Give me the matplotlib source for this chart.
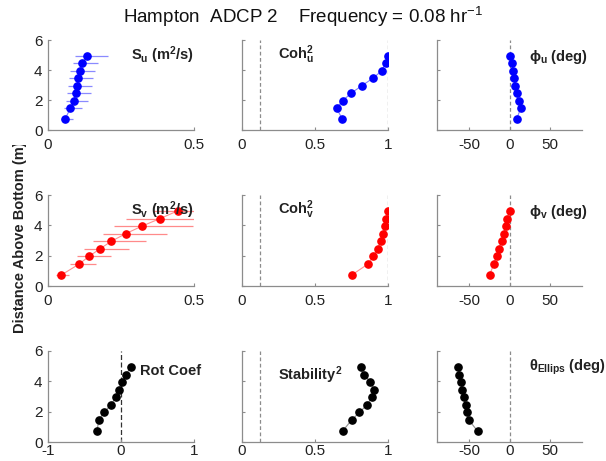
import matplotlib
matplotlib.use("Agg")
import matplotlib.pyplot as plt
from matplotlib.transforms import Bbox

plt.rcParams['font.family'] = ['Liberation Sans', 'DejaVu Sans']
plt.rcParams['mathtext.fontset'] = 'custom'
plt.rcParams['mathtext.rm'] = 'Liberation Sans'
plt.rcParams['mathtext.it'] = 'Liberation Sans:italic'
plt.rcParams['mathtext.bf'] = 'Liberation Sans:bold'
plt.rcParams['axes.unicode_minus'] = False

# bin heights above the bed (m)
depth = [0.72, 1.45, 1.95, 2.45, 2.95, 3.45, 3.95, 4.45, 4.95]

# spectra with confidence limits
s_u = [0.058, 0.077, 0.089, 0.095, 0.100, 0.104, 0.109, 0.118, 0.134]
s_u_lo = [0.046, 0.054, 0.061, 0.066, 0.069, 0.072, 0.074, 0.084, 0.094]
s_u_hi = [0.086, 0.118, 0.137, 0.146, 0.149, 0.154, 0.160, 0.172, 0.206]
s_v = [0.045, 0.107, 0.140, 0.178, 0.217, 0.266, 0.322, 0.384, 0.444]
s_v_lo = [0.029, 0.075, 0.098, 0.124, 0.153, 0.187, 0.226, 0.268, 0.360]
s_v_hi = [0.072, 0.164, 0.215, 0.276, 0.337, 0.408, 0.497, 0.500, 0.560]

# coherence squared and phase
coh_u = [0.687, 0.648, 0.689, 0.747, 0.820, 0.897, 0.957, 0.984, 1.0]
coh_v = [0.751, 0.863, 0.900, 0.929, 0.952, 0.966, 0.982, 0.989, 1.0]
phi_u = [8.7, 14.0, 11.6, 8.7, 7.0, 5.8, 4.5, 2.9, 0.0]
phi_v = [-24.8, -19.4, -16.1, -13.2, -9.5, -7.4, -4.5, -2.9, 0.8]

# ellipse parameters
rot_coef = [-0.328, -0.305, -0.231, -0.139, -0.069, -0.023, 0.009, 0.065, 0.139]
stability2 = [0.689, 0.751, 0.804, 0.856, 0.890, 0.904, 0.879, 0.838, 0.813]
theta_ellips = [-39.7, -50.4, -52.5, -54.5, -56.6, -58.7, -60.3, -62.4, -63.6]

coh_level = 0.12

W, H = 606, 461
fig = plt.figure(figsize=(W / 100, H / 100), dpi=100)

cols_px = [(48, 194), (242, 388), (437, 582)]
rows_px = [(40, 130), (195, 286), (351, 442)]

axes = []
for r, (top, bot) in enumerate(rows_px):
    row = []
    for c, (lft, rgt) in enumerate(cols_px):
        ax = fig.add_axes([lft / W, 1 - bot / H, (rgt - lft) / W, (bot - top) / H])
        for s in ('top', 'right'):
            ax.spines[s].set_visible(False)
        for s in ('left', 'bottom'):
            ax.spines[s].set_color('#8c8c8c')
            ax.spines[s].set_linewidth(0.9)
        ax.set_ylim(0, 6)
        ax.set_yticks([0, 2, 4, 6])
        ax.tick_params(direction='in', length=2, color='#8c8c8c',
                       labelsize=11, labelcolor='#222222')
        # bottom row sits close to the lower edge
        ax.tick_params(axis='x', pad=6 if r < 2 else 1.5)
        ax.tick_params(axis='y', pad=4)
        if c > 0:
            ax.set_yticklabels([])
        row.append(ax)
    axes.append(row)

blue_kw = dict(color='#0000ff', ms=5.2)
red_kw = dict(color='#ff0000', ms=5.2)
blk_kw = dict(color='#000000', ms=5.2)
lbl_kw = dict(fontsize=10.5, fontweight='bold', va='center', ha='left', color='#222222')


def plot_profile(ax, x, kw):
    line_col = {'#0000ff': '#8080ff', '#ff0000': '#ff9090', '#000000': '#909090'}[kw['color']]
    ax.plot(x, depth, color=line_col, lw=0.8, zorder=2)
    ax.plot(x, depth, ls='none', marker='o', ms=kw['ms'], color=kw['color'], zorder=3)


def vline(ax, x, col='#8c8c8c', ls=(0, (3, 2))):
    ax.axvline(x, color=col, lw=0.9, ls=ls, zorder=1)


# spectra
for ax, s, lo, hi, kw, err_col, sub in [
        (axes[0][0], s_u, s_u_lo, s_u_hi, blue_kw, '#8a8aff', 'u'),
        (axes[1][0], s_v, s_v_lo, s_v_hi, red_kw, '#ff8a8a', 'v')]:
    ax.hlines(depth, lo, hi, color=err_col, lw=0.9, zorder=1)
    plot_profile(ax, s, kw)
    ax.set_xlim(0, 0.5)
    ax.set_xticks([0, 0.5])
    ax.set_xticklabels(['0', '0.5'])
    ax.text(0.285, 5.0, r'$\mathbf{S_%s}$ (m$^\mathbf{2}$/s)' % sub, **lbl_kw)

# coherence
for ax, coh, kw, sub in [(axes[0][1], coh_u, blue_kw, 'u'), (axes[1][1], coh_v, red_kw, 'v')]:
    vline(ax, coh_level)
    vline(ax, 1.0)
    plot_profile(ax, coh, kw)
    ax.set_xlim(0, 1)
    ax.set_xticks([0, 0.5, 1])
    ax.set_xticklabels(['0', '0.5', '1'])
    ax.text(0.245, 5.0, r'$\mathbf{Coh_%s^2}$' % sub, **lbl_kw)

# phase
for ax, ph, kw, sub in [(axes[0][2], phi_u, blue_kw, 'u'), (axes[1][2], phi_v, red_kw, 'v')]:
    vline(ax, 0)
    plot_profile(ax, ph, kw)
    ax.set_xlim(-90, 90)
    ax.set_xticks([-50, 0, 50])
    ax.text(24, 4.9, r'$\mathbf{\phi_%s}$ (deg)' % sub, **lbl_kw)

# rotary coefficient
ax = axes[2][0]
vline(ax, 0, col='#333333', ls=(0, (4, 2)))
plot_profile(ax, rot_coef, blk_kw)
ax.set_xlim(-1, 1)
ax.set_xticks([-1, 0, 1])
ax.text(0.26, 4.65, 'Rot Coef', **lbl_kw)

# ellipse stability
ax = axes[2][1]
vline(ax, coh_level)
plot_profile(ax, stability2, blk_kw)
ax.set_xlim(0, 1)
ax.set_xticks([0, 0.5, 1])
ax.set_xticklabels(['0', '0.5', '1'])
ax.text(0.25, 4.4, r'$\mathbf{Stability^2}$', **lbl_kw)

# ellipse orientation
ax = axes[2][2]
vline(ax, 0)
plot_profile(ax, theta_ellips, blk_kw)
ax.set_xlim(-90, 90)
ax.set_xticks([-50, 0, 50])
ax.text(24, 4.95, r'$\mathbf{\theta_{Ellips}}$ (deg)', **lbl_kw)

fig.text(0.5, 1 - 17 / H, r'Hampton  ADCP 2    Frequency = 0.08 hr$^{-1}$',
         ha='center', va='center', fontsize=13.5, color='#111111')

yl = fig.text(20 / W, 1 - 237 / H, 'Distance Above Bottom (m)', rotation=90,
              ha='center', va='center', fontsize=10.5, fontweight='bold', color='#222222')
yl.set_clip_box(Bbox.from_extents(0, 0, W, H - 145))
yl.set_clip_on(True)

fig.savefig('out.png', dpi=100, facecolor='white')
